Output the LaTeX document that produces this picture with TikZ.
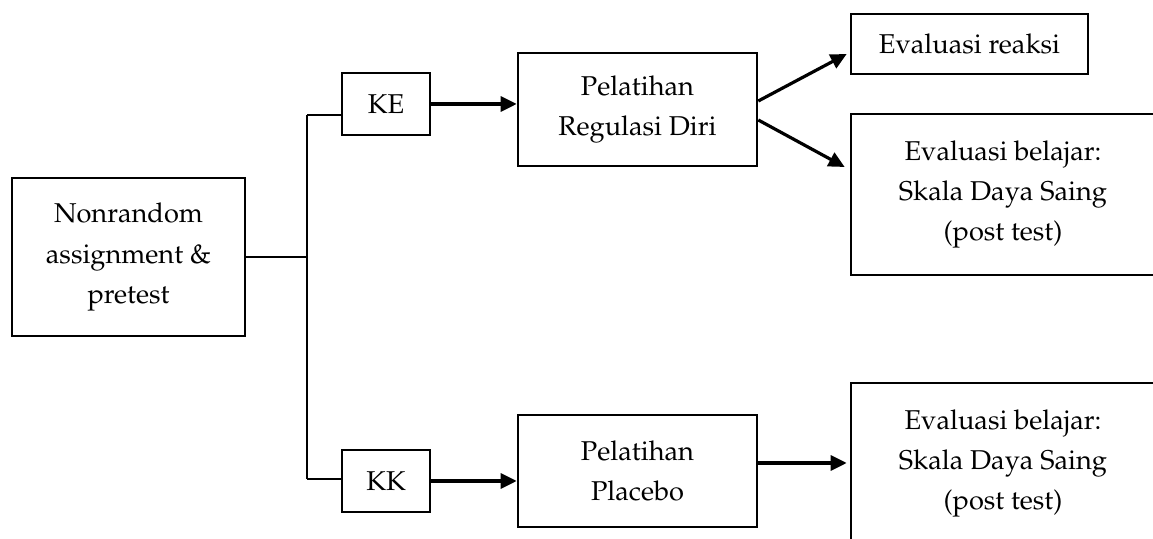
\documentclass[tikz,border=0pt]{standalone}
\usepackage[T1]{fontenc}
\usepackage{mathpazo}
\usetikzlibrary{arrows.meta}

\begin{document}
\begin{tikzpicture}[x=0.5pt, y=-0.5pt,
    box/.style={draw, line width=1.3pt, align=center, inner sep=0pt,
        font=\fontsize{13.6}{20}\selectfont},
    link/.style={line width=1.2pt},
    arr/.style={line width=1.6pt, -{Triangle[length=8pt, width=7.5pt]}}]
    \clip (0,0) rectangle (1153,539);

    \coordinate (jtop) at (307,115);
    \coordinate (jbot) at (307,479);

    \node[box, minimum width=116.5pt, minimum height=79pt] (start) at (128.5,257) {Nonrandom\\assignment \&\\pretest};
    \node[box, minimum width=44pt, minimum height=31pt] (ke) at (386,104) {KE};
    \node[box, minimum width=44pt, minimum height=31pt] (kk) at (386,481) {KK};
    \node[box, minimum width=119.5pt, minimum height=56.5pt] (reg) at (637.5,109.5) {Pelatihan\\Regulasi Diri};
    \node[box, minimum width=119.5pt, minimum height=56pt] (plac) at (637.5,471) {Pelatihan\\Placebo};
    \node[box, minimum width=118.5pt, minimum height=30pt] (reaksi) at (969.5,44) {Evaluasi reaksi};
    \node[box, minimum width=152pt, minimum height=80.5pt] (belajarA) at (1003,194.5) {Evaluasi belajar:\\Skala Daya Saing\\(post test)};
    \node[box, minimum width=152pt, minimum height=80.5pt] (belajarB) at (1003,463.5) {Evaluasi belajar:\\Skala Daya Saing\\(post test)};

    % branching
    \draw[link] (start.east) -- (start.east -| jtop);
    \draw[link] (jtop) -- (jbot);
    \draw[link] (jtop) -- (jtop -| ke.west);
    \draw[link] (jbot) -- (jbot -| kk.west);

    % arrows
    \draw[arr] (ke.east) -- (ke.east -| reg.west);
    \draw[arr] (kk.east) -- (kk.east -| plac.west);
    \draw[arr] ([yshift=4.25pt]reg.east) -- ([xshift=-1.5pt, yshift=-5pt]reaksi.west);
    \draw[arr] ([yshift=-5.25pt]reg.east) -- ([xshift=-2.5pt, yshift=13.75pt]belajarA.west);
    \draw[arr] ([yshift=4pt]plac.east) -- ([xshift=-1.5pt]belajarB.west |- 0,463);
\end{tikzpicture}
\end{document}
